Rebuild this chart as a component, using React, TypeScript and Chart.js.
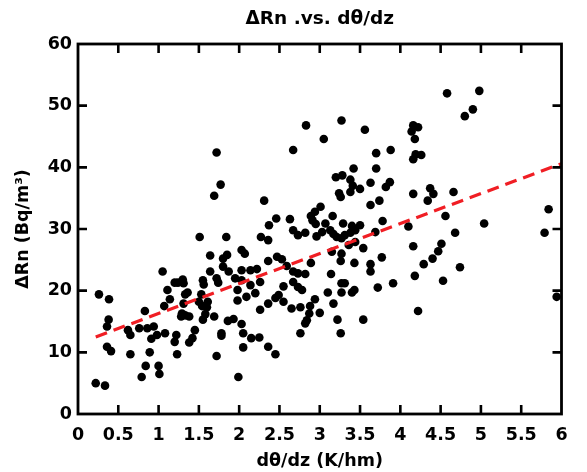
import React, { useEffect, useRef } from "react";
import { Chart, registerables } from "chart.js";

Chart.register(...registerables);

// d(theta)/dz values (K/hm)
const gradX: number[] = [
  1.72, 1.77, 1.69,
  2.31, 2.83, 3.27, 3.56, 3.05, 2.67, 3.70, 3.88, 3.42, 3.70, 3.20, 3.28, 3.38, 3.41, 3.50, 3.38, 3.63, 3.87, 3.82, 3.24, 3.26, 3.74, 3.63, 3.01, 2.94, 2.89, 2.91, 3.16, 2.46, 2.37, 2.63, 2.95, 3.07, 3.29, 3.40, 3.50, 3.78,
  4.58, 4.98, 4.90, 4.80, 4.16, 4.22, 4.14, 4.18, 4.19, 4.26, 4.16, 4.16, 4.37, 4.41, 4.34, 4.66, 4.56, 5.84, 4.10, 5.04,
  4.68, 5.79, 4.16, 4.51, 4.47, 4.40, 4.29, 4.74, 4.18, 4.53, 4.22, 5.94,
  0.26, 0.385, 0.38, 0.36, 0.36, 0.41, 0.22, 0.335, 0.62, 0.65, 0.65, 0.76, 0.83, 0.86, 0.94, 0.91, 0.98, 0.89, 0.84, 0.79, 1.00, 1.01,
  1.05, 1.08, 1.07, 1.11, 1.14, 1.20, 1.24, 1.30, 1.31, 1.22, 1.20, 1.23, 1.33, 1.36, 1.31, 1.29, 1.28, 1.33, 1.38, 1.45, 1.42, 1.38,
  1.51, 1.55, 1.56, 1.53, 1.50, 1.54, 1.60, 1.61, 1.58, 1.55, 1.64, 1.64, 1.69, 1.72, 1.72, 1.74, 1.78, 1.78, 1.80, 1.85, 1.80, 1.87,
  1.84, 1.86, 1.93, 1.95, 1.98, 1.98, 1.99, 2.03, 2.03, 2.03, 2.05, 2.05,
  2.67, 2.73, 2.82, 2.96, 3.03, 3.13, 3.17, 3.21, 3.27, 3.31, 3.38, 3.44, 3.69, 2.27, 2.36, 2.07, 2.36, 2.47, 2.53, 2.59, 2.89,
  3.15, 3.27, 3.36, 3.44, 3.54, 3.26, 3.43, 3.77, 3.63, 3.63, 2.14, 2.22, 2.03, 2.14, 2.26, 2.20, 2.09, 2.67, 2.73, 2.82,
  2.67, 2.73, 2.78, 2.55, 2.49, 2.45, 2.36, 2.55, 2.26, 2.65, 2.76, 2.94, 2.88, 2.87, 2.84, 2.82, 3.00, 3.10, 3.14, 3.17,
  3.27, 3.31, 3.27, 3.43, 3.40, 3.22, 3.26, 3.54, 2.76, 3.72, 3.91, 2.15, 2.25, 2.36, 2.45,
];

// Delta Rn values (Bq/m3)
const deltaRn: number[] = [
  42.4, 37.2, 35.4,
  34.6, 46.8, 47.6, 46.1, 44.6, 42.8, 42.3, 42.8, 39.8, 39.8, 38.4, 38.7, 38.0, 37.0, 36.5, 36.0, 37.5, 37.6, 36.8, 35.8, 35.2, 34.6, 33.9, 33.6, 32.8, 32.1, 31.4, 32.1, 31.7, 30.6, 31.6, 30.8, 30.9, 30.9, 30.5, 30.6, 31.3,
  52.0, 52.4, 49.4, 48.3, 46.8, 46.5, 45.8, 44.6, 42.1, 42.0, 41.3, 35.7, 36.6, 35.7, 34.6, 36.0, 32.1, 33.2, 30.4, 30.9,
  29.4, 29.4, 27.2, 27.6, 26.4, 25.2, 24.3, 23.8, 22.4, 21.6, 16.7, 19.0,
  19.4, 18.6, 15.3, 14.2, 10.9, 10.2, 5.0, 4.6, 13.6, 12.8, 9.7, 13.9, 16.7, 13.9, 14.2, 12.2, 12.8, 10.0, 7.8, 6.0, 7.8, 6.5,
  23.1, 13.1, 17.5, 20.1, 18.6, 21.3, 21.3, 21.8, 21.2, 12.8, 11.7, 9.7, 19.4, 19.7, 17.9, 16.3, 15.8, 16.0, 15.8, 13.6, 12.3, 11.6,
  28.7, 21.7, 21.0, 19.4, 18.2, 17.5, 17.3, 18.2, 16.2, 15.3, 25.7, 23.1, 15.8, 9.4, 22.0, 21.3, 13.1, 12.7, 25.2, 25.8, 23.9, 23.1,
  28.7, 15.1, 15.4, 22.0, 20.1, 18.4, 6.0, 26.6, 23.3, 14.6, 13.1, 10.8,
  29.8, 29.0, 29.4, 28.8, 29.5, 29.8, 29.2, 28.7, 28.5, 29.0, 29.4, 29.8, 29.5, 28.7, 28.2, 26.0, 24.8, 25.5, 25.1, 24.0, 24.5,
  26.3, 26.0, 27.4, 27.9, 26.9, 24.8, 24.5, 25.4, 24.3, 23.1, 23.3, 23.5, 21.7, 20.9, 21.4, 19.6, 19.0, 23.1, 22.8, 22.7,
  21.4, 20.6, 20.1, 20.7, 19.3, 18.8, 17.9, 18.2, 16.9, 17.1, 17.3, 18.6, 17.5, 16.3, 15.2, 14.7, 16.4, 19.7, 22.7, 17.9,
  21.2, 21.2, 19.7, 20.1, 19.7, 15.3, 13.1, 15.3, 13.1, 20.5, 21.2, 12.3, 12.4, 10.9, 9.7,
];

// Fitted regression line end points
const fitX: number[] = [0.22, 6];
const fitY: number[] = [12.5, 40.6];

const xTicks: number[] = [0, 0.5, 1, 1.5, 2, 2.5, 3, 3.5, 4, 4.5, 5, 5.5, 6];
const yTicks: number[] = [0, 10, 20, 30, 40, 50, 60];

const TITLE = "\u0394Rn .vs. d\u03b8/dz";
const X_LABEL = "d\u03b8/dz (K/hm)";
const Y_LABEL = "\u0394Rn (Bq/m\u00b3)";

const FONT = "'DejaVu Sans', 'Liberation Sans', Arial, sans-serif";

const framePlugin = {
  id: "frameTicks",
  afterDraw(chart: any) {
    const { ctx, chartArea } = chart;
    const { left, right, top, bottom } = chartArea;
    const xs = chart.scales.x;
    const ys = chart.scales.y;
    const len = 9;
    ctx.save();
    ctx.strokeStyle = "#000";
    ctx.lineWidth = 2.6;
    ctx.lineCap = "butt";
    ctx.beginPath();
    xTicks.forEach((v) => {
      if (v === xTicks[0] || v === xTicks[xTicks.length - 1]) return;
      const px = xs.getPixelForValue(v);
      ctx.moveTo(px, bottom);
      ctx.lineTo(px, bottom - len);
      ctx.moveTo(px, top);
      ctx.lineTo(px, top + len);
    });
    yTicks.forEach((v) => {
      if (v === yTicks[0] || v === yTicks[yTicks.length - 1]) return;
      const py = ys.getPixelForValue(v);
      ctx.moveTo(left, py);
      ctx.lineTo(left + len, py);
      ctx.moveTo(right, py);
      ctx.lineTo(right - len, py);
    });
    ctx.stroke();
    ctx.lineWidth = 2.8;
    ctx.strokeRect(left, top, right - left, bottom - top);
    // chart title, centred over the plot area
    ctx.fillStyle = "#000";
    ctx.font = `bold 18.5px ${FONT}`;
    ctx.textAlign = "center";
    ctx.textBaseline = "middle";
    ctx.fillText(TITLE, (left + right) / 2, 19.5);
    ctx.restore();
  },
};

export default function App() {
  const ref = useRef<HTMLCanvasElement | null>(null);

  useEffect(() => {
    if (!ref.current) return;
    const points = gradX.map((x, i) => ({ x, y: deltaRn[i] }));
    const fit = fitX.map((x, i) => ({ x, y: fitY[i] }));
    const chart = new Chart(ref.current, {
      type: "scatter",
      data: {
        datasets: [
          {
            type: "line",
            label: "fit",
            data: fit,
            borderColor: "rgb(240,30,36)",
            borderWidth: 3.2,
            borderDash: [12, 7],
            pointRadius: 0,
            fill: false,
            order: 0,
          } as any,
          {
            label: "data",
            data: points,
            backgroundColor: "#000",
            borderWidth: 0,
            pointRadius: 4.3,
            order: 1,
          },
        ],
      },
      options: {
        responsive: false,
        animation: false,
        layout: { padding: { left: 0, right: 25.5, top: 44, bottom: 0 } },
        plugins: {
          legend: { display: false },
          tooltip: { enabled: false },
          title: { display: false },
        },
        scales: {
          x: {
            type: "linear",
            min: 0,
            max: 6,
            afterBuildTicks: (scale: any) => {
              scale.ticks = xTicks.map((v) => ({ value: v }));
            },
            afterFit: (scale: any) => {
              scale.height = 58;
            },
            grid: { display: false, drawTicks: false },
            border: { display: false },
            ticks: {
              color: "#000",
              padding: 11,
              maxRotation: 0,
              autoSkip: false,
              font: { family: FONT, size: 17.5, weight: "bold", lineHeight: 1.2 },
              callback: (v: any) => String(v),
            },
            title: {
              display: true,
              text: X_LABEL,
              color: "#000",
              font: { family: FONT, size: 17.5, weight: "bold", lineHeight: 1.2 },
              padding: { top: 0, bottom: 0 },
            },
          },
          y: {
            type: "linear",
            min: 0,
            max: 60,
            afterBuildTicks: (scale: any) => {
              scale.ticks = yTicks.map((v) => ({ value: v }));
            },
            afterFit: (scale: any) => {
              scale.width = 78;
            },
            grid: { display: false, drawTicks: false },
            border: { display: false },
            ticks: {
              color: "#000",
              padding: 6,
              autoSkip: false,
              font: { family: FONT, size: 17.5, weight: "bold", lineHeight: 1.2 },
              callback: (v: any) => String(v),
            },
            title: {
              display: true,
              text: Y_LABEL,
              color: "#000",
              font: { family: FONT, size: 17.5, weight: "bold", lineHeight: 1.2 },
              padding: { top: 13, bottom: 0 },
            },
          },
        },
      },
      plugins: [framePlugin],
    });
    return () => chart.destroy();
  }, []);

  return (
    <div style={{ position: "absolute", left: 0, top: 0, width: 587, height: 472, background: "#fff" }}>
      <canvas ref={ref} width={587} height={472} style={{ display: "block" }} />
    </div>
  );
}
